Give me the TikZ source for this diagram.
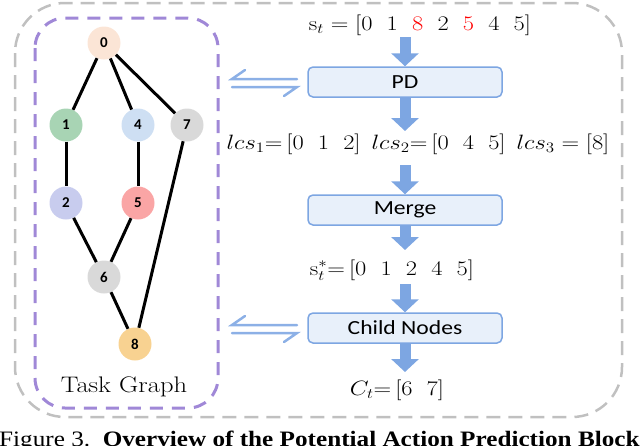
\documentclass[tikz,border=0pt]{standalone}
\usepackage{fontspec}
\usepackage{graphicx}
\usetikzlibrary{arrows.meta}
\newfontfamily\carl{Carlito}
\newfontfamily\capfont{Liberation Serif}
\definecolor{c0}{RGB}{251,229,214}
\definecolor{c1}{RGB}{168,212,180}
\definecolor{c2}{RGB}{200,204,238}
\definecolor{c4}{RGB}{206,223,243}
\definecolor{c5}{RGB}{250,165,165}
\definecolor{c6}{RGB}{217,217,217}
\definecolor{c8}{RGB}{248,210,145}
\definecolor{arrcol}{RGB}{125,166,226}
\definecolor{harpcol}{RGB}{140,176,230}
\definecolor{boxfill}{RGB}{232,240,250}
\definecolor{grayframe}{RGB}{192,192,192}
\definecolor{purpframe}{RGB}{160,136,215}
\newcommand{\gp}{\hspace{12pt}}
\newcommand{\hs}[1]{\scalebox{1.18}[1]{#1}}
\begin{document}
\begin{tikzpicture}[x=1pt,y=-1pt,
  gnode/.style={circle, minimum size=33pt, inner sep=0pt, font=\carl\bfseries\fontsize{15}{15}\selectfont},
  gedge/.style={line width=3pt, black},
  pbox/.style={draw=arrcol, fill=boxfill, line width=1.5pt, rounded corners=5pt, minimum width=194pt, minimum height=30pt, inner sep=0pt, font=\carl\fontsize{20}{20}\selectfont},
  txt/.style={inner sep=1pt, font=\fontsize{20}{24}\selectfont},
  barrow/.style={arrcol, line width=11pt, -{Triangle[width=27pt,length=13pt]}},
  harp/.style={harpcol, line width=2.5pt, line cap=round}
]
\useasboundingbox (0,0) rectangle (640,445);
% frames
\draw[grayframe, line width=2.5pt, dash pattern=on 14pt off 8pt, rounded corners=50pt] (15,3) rectangle (622,417);
\draw[purpframe, line width=3pt, dash pattern=on 13pt off 9pt, rounded corners=30pt] (35,18) rectangle (218,408);
% graph nodes
\node[gnode, fill=c0] (n0) at (104,43) {0};
\node[gnode, fill=c1] (n1) at (66,125) {1};
\node[gnode, fill=c4] (n4) at (138,125) {4};
\node[gnode, fill=c6] (n7) at (187,125) {7};
\node[gnode, fill=c2] (n2) at (66,203) {2};
\node[gnode, fill=c5] (n5) at (138,203) {5};
\node[gnode, fill=c6] (n6) at (104,277) {6};
\node[gnode, fill=c8] (n8) at (135,344) {8};
\draw[gedge] (n0) -- (n1);
\draw[gedge] (n0) -- (n4);
\draw[gedge] (n0) -- (n7);
\draw[gedge] (n1) -- (n2);
\draw[gedge] (n4) -- (n5);
\draw[gedge] (n2) -- (n6);
\draw[gedge] (n5) -- (n6);
\draw[gedge] (n6) -- (n8);
\draw[gedge] (n7) -- (n8);
\node[font=\fontsize{22.5}{24}\selectfont] (tg) at (124,387) {\hs{Task Graph}};
% right pipeline
\node[txt] (st) at (420,25) {\hs{$\mathrm{s}_t=[0\gp1\gp{\color{red}8}\gp2\gp{\color{red}5}\gp4\gp5]$}};
\node[pbox] (pd) at (405,82) {\hs{PD}};
\node[txt] (lcs) at (418,144) {\hs{$lcs_1{=}\,[0\gp1\gp2]\;\,lcs_2{=}\,[0\gp4\gp5]\;\,lcs_3=[8]$}};
\node[pbox] (mg) at (405,210) {\hs{Merge}};
\node[txt] (sst) at (392,270) {\hs{$\mathrm{s}^*_t{=}\,[0\gp1\gp2\gp4\gp5]$}};
\node[pbox] (cn) at (405,328) {\hs{Child Nodes}};
\node[txt] (ct) at (397,390) {\hs{$C_t{=}\,[6\gp7]$}};
\draw[barrow] (pd.north |- 0,37) -- (pd.north);
\draw[barrow] (pd.south) -- (pd.south |- 0,131);
\draw[barrow] (mg.north |- 0,165) -- (mg.north);
\draw[barrow] (mg.south) -- (mg.south |- 0,250);
\draw[barrow] (cn.north |- 0,284) -- (cn.north);
\draw[barrow] (cn.south) -- (cn.south |- 0,372);
% harpoons
\coordinate (h1a) at (232,79); \coordinate (h1b) at (297,79);
\coordinate (h1c) at (232,87); \coordinate (h1d) at (297,87);
\draw[harp] (h1b) -- (h1a) -- ++(13,-9);
\draw[harp] (h1c) -- (h1d) -- ++(-13,9);
\coordinate (h2a) at (232,325); \coordinate (h2b) at (297,325);
\coordinate (h2c) at (232,333); \coordinate (h2d) at (297,333);
\draw[harp] (h2b) -- (h2a) -- ++(13,-9);
\draw[harp] (h2c) -- (h2d) -- ++(-13,9);
% caption (cut off in the reference)
\node[anchor=base west, inner sep=0pt, font=\capfont\fontsize{22}{24}\selectfont] (cap) at (-1,446) {\scalebox{1.145}[1]{Figure 3.\ \ \textbf{Overview of the Potential Action Prediction Block}}};
\end{tikzpicture}
\end{document}
